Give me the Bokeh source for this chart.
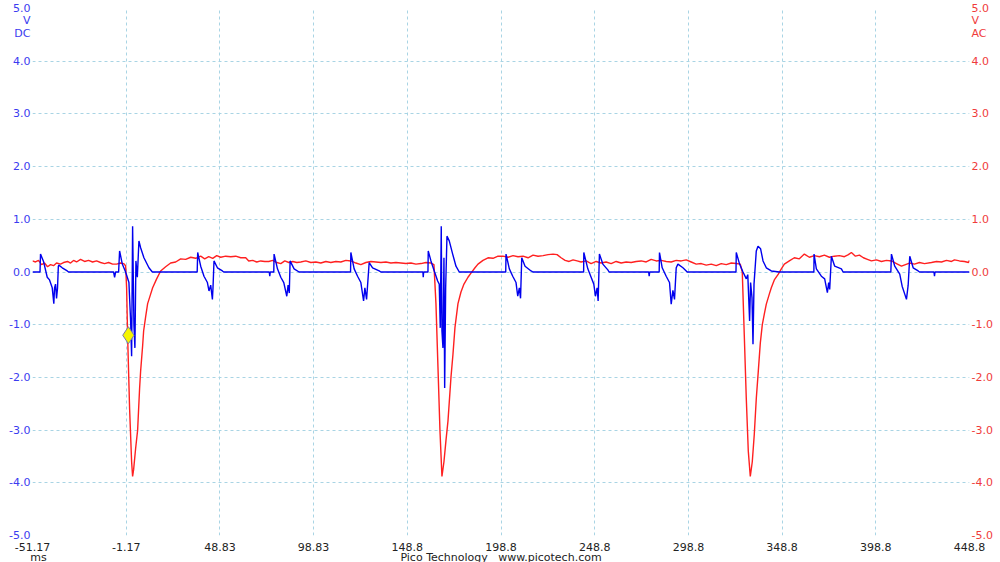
from bokeh.plotting import figure
from bokeh.models import Range1d, LinearAxis, FixedTicker
from bokeh.embed import file_html
from bokeh.resources import INLINE

# ---- data ----
# Channel B (AC, red): time in ms, voltage in V
red_t = [-51.17, -49.56, -47.96, -46.36, -44.76, -43.15, -41.55, -39.95, -38.34, -36.21,
         -34.61, -32.47, -30.87, -29.26, -27.66, -25.52, -23.39, -21.25, -19.11, -16.98,
         -14.84, -12.70, -10.57, -8.43, -6.29, -4.16, -2.55, -1.48, -0.95, -0.42,
         0.65, 1.72, 2.25, 2.79, 3.86, 4.93, 5.99, 6.53, 7.60, 8.13,
         9.20, 10.27, 11.87, 12.94, 15.08, 17.21, 19.88, 22.55, 25.23, 27.90,
         30.57, 33.24, 35.91, 38.58, 40.72, 42.86, 44.99, 47.13, 49.27, 51.93,
         54.61, 57.28, 59.95, 62.62, 64.22, 66.36, 68.50, 70.63, 72.77, 74.91,
         77.04, 79.18, 81.32, 83.45, 85.59, 87.73, 89.87, 92.00, 94.67, 97.35,
         100.02, 102.69, 105.36, 108.03, 110.70, 113.37, 116.04, 118.71, 121.38, 124.05,
         126.72, 129.39, 132.07, 134.74, 137.41, 140.08, 142.75, 145.42, 148.09, 150.76,
         153.43, 156.10, 158.78, 161.45, 163.05, 164.12, 165.19, 166.25, 167.32, 168.39,
         169.46, 170.53, 172.13, 173.20, 174.27, 175.87, 177.47, 179.07, 181.21, 182.81,
         184.95, 186.55, 189.22, 191.90, 194.57, 197.24, 199.91, 202.58, 205.25, 207.92,
         210.59, 213.26, 215.93, 218.61, 221.28, 223.95, 226.62, 228.76, 230.89, 233.03,
         235.17, 237.30, 239.44, 241.58, 244.25, 246.92, 249.59, 252.26, 254.93, 257.60,
         260.27, 262.94, 265.62, 268.29, 270.96, 273.63, 276.30, 278.97, 281.64, 284.31,
         286.98, 289.65, 292.33, 295.00, 297.67, 300.34, 303.01, 305.68, 308.35, 311.02,
         313.69, 316.36, 319.04, 321.71, 324.38, 326.51, 327.58, 328.65, 329.72, 330.79,
         331.86, 332.92, 333.99, 335.06, 336.13, 337.20, 338.27, 339.33, 340.40, 342.00,
         343.07, 344.67, 346.81, 348.42, 350.02, 352.69, 355.36, 358.03, 360.70, 363.37,
         366.04, 368.72, 371.39, 374.06, 376.73, 379.40, 382.07, 384.21, 385.81, 387.95,
         390.08, 392.22, 394.36, 396.49, 399.17, 401.84, 404.51, 407.18, 409.85, 412.52,
         414.66, 416.79, 419.46, 422.14, 424.81, 428.55, 431.21, 433.89, 436.56, 439.23,
         440.83, 443.50, 446.17, 448.31, 448.83]
red_v = [0.21, 0.19, 0.22, 0.14, 0.17, 0.10, 0.14, 0.12, 0.17, 0.15,
         0.18, 0.20, 0.17, 0.22, 0.19, 0.24, 0.20, 0.22, 0.19, 0.21,
         0.18, 0.16, 0.18, 0.15, 0.15, 0.17, 0.16, 0.12, -0.30, -1.20,
         -2.60, -3.60, -3.88, -3.75, -3.35, -3.00, -2.20, -1.88, -1.40, -1.12,
         -0.85, -0.60, -0.42, -0.30, -0.13, 0.02, 0.10, 0.17, 0.19, 0.25,
         0.24, 0.28, 0.26, 0.30, 0.25, 0.29, 0.26, 0.31, 0.28, 0.30,
         0.29, 0.30, 0.27, 0.27, 0.21, 0.22, 0.19, 0.21, 0.20, 0.20,
         0.22, 0.18, 0.16, 0.21, 0.18, 0.20, 0.18, 0.19, 0.21, 0.18,
         0.19, 0.17, 0.20, 0.18, 0.20, 0.19, 0.22, 0.21, 0.17, 0.14,
         0.18, 0.20, 0.19, 0.18, 0.19, 0.17, 0.18, 0.17, 0.16, 0.17,
         0.15, 0.16, 0.18, 0.17, 0.14, -0.60, -1.80, -3.00, -3.88, -3.60,
         -3.20, -2.83, -2.00, -1.56, -1.05, -0.60, -0.38, -0.23, -0.10, -0.02,
         0.08, 0.15, 0.22, 0.27, 0.26, 0.30, 0.30, 0.28, 0.31, 0.29,
         0.30, 0.27, 0.32, 0.30, 0.31, 0.33, 0.34, 0.33, 0.27, 0.22,
         0.20, 0.23, 0.21, 0.19, 0.21, 0.16, 0.20, 0.17, 0.19, 0.16,
         0.20, 0.17, 0.19, 0.18, 0.20, 0.21, 0.19, 0.24, 0.21, 0.22,
         0.20, 0.19, 0.22, 0.21, 0.23, 0.19, 0.15, 0.16, 0.13, 0.15,
         0.12, 0.16, 0.14, 0.17, 0.16, 0.15, 0.00, -1.20, -2.40, -3.40,
         -3.88, -3.60, -3.08, -2.40, -1.88, -1.35, -1.00, -0.80, -0.61, -0.42,
         -0.30, -0.15, -0.04, 0.06, 0.15, 0.21, 0.27, 0.25, 0.34, 0.28,
         0.31, 0.29, 0.32, 0.28, 0.30, 0.31, 0.29, 0.33, 0.37, 0.30,
         0.32, 0.27, 0.24, 0.21, 0.23, 0.20, 0.22, 0.21, 0.16, 0.11,
         0.14, 0.17, 0.15, 0.18, 0.16, 0.18, 0.20, 0.19, 0.22, 0.20,
         0.23, 0.21, 0.20, 0.18, 0.22]

# Channel A (DC, blue): time in ms, voltage in V
blue_t = [-51.17, -47.16, -46.89, -45.29, -43.31, -42.08, -40.64, -39.79, -39.41, -38.88,
          -38.34, -37.81, -37.38, -37.12, -35.30, -32.63, -31.93,
          -7.89, -7.36, -6.83, -5.22, -4.69, -3.25, -1.48, 0.28, 1.19, 1.72, 2.25, 2.95,
          3.48, 4.02, 4.77, 5.62, 6.53, 8.29, 10.96, 12.78,
          36.71, 36.98, 38.58, 40.34, 42.16, 43.01, 43.92, 44.83, 45.15, 45.68, 47.50, 50.17, 50.87,
          75.17, 75.44, 75.71, 77.58, 77.74, 79.55, 81.32, 82.92, 84.52, 85.22, 85.86, 86.29,
          88.42, 91.09,
          118.55, 118.71, 120.47, 122.29, 124.05, 125.50, 126.19, 127.10, 128.49, 130.30,
          133.83, 134.74,
          157.17, 157.33, 157.55, 159.85, 160.01, 161.45, 163.21, 165.03, 165.88, 166.42,
          166.95, 167.32, 167.86, 168.39, 168.77, 169.30, 170.00, 171.22, 173.04, 174.80, 176.57,
          201.35, 201.51, 203.28, 205.09, 206.85, 207.76, 208.62, 209.26, 209.90, 211.66,
          214.87, 215.93,
          242.92, 243.02, 245.16, 246.92, 248.36, 249.22, 250.12, 250.66, 251.35, 253.17,
          255.84, 256.53,
          277.64, 277.90, 278.17, 283.24, 283.40, 284.85, 286.98, 288.75, 289.65, 290.56,
          291.42, 292.33, 293.24, 295.91, 297.67, 298.21,
          324.22, 324.38, 326.14, 327.96, 329.72, 330.52, 331.49, 332.02, 332.77, 333.30,
          333.84, 335.06, 335.97, 337.36, 338.65, 340.40, 343.07, 347.35,
          365.78, 365.88, 367.11, 369.78, 371.55, 372.99, 373.68, 374.22, 375.13, 376.89,
          380.47, 381.38,
          406.86, 407.18, 408.94, 411.61, 412.89, 414.28, 415.19, 416.10, 416.95, 418.77,
          421.44, 422.14,
          429.88, 430.15, 430.42, 448.83]
blue_v = [0.00, 0.00, 0.34, 0.20, -0.10, -0.15, -0.30, -0.60, -0.30, -0.23,
          -0.50, -0.30, 0.11, 0.13, 0.08, 0.02, 0.00,
          0.00, -0.10, 0.00, 0.00, 0.40, 0.15, 0.00, -0.20, -0.93, -1.60, 0.87, -1.00,
          -1.44, 0.21, -0.10, 0.59, 0.46, 0.27, 0.08, 0.00,
          0.00, 0.37, 0.11, -0.08, -0.20, -0.36, -0.25, -0.52, -0.30, 0.21, 0.08, 0.02, 0.00,
          0.00, -0.08, 0.00, 0.00, 0.34, 0.06, -0.10, -0.20, -0.46, -0.25, -0.40, 0.21,
          0.06, 0.00,
          0.00, 0.37, 0.06, -0.08, -0.20, -0.55, -0.30, -0.52, 0.18, 0.08,
          0.02, 0.00,
          0.00, -0.10, 0.00, 0.00, 0.40, 0.21, 0.02, -0.17, -0.23, -1.06,
          0.87, -1.12, -1.44, 0.27, -2.20, -0.30, 0.68, 0.59, 0.34, 0.11, 0.00,
          0.00, 0.34, 0.06, -0.08, -0.20, -0.46, -0.30, -0.50, 0.27, 0.11,
          0.02, 0.00,
          0.00, 0.37, 0.06, -0.10, -0.23, -0.46, -0.30, -0.55, 0.34, 0.15,
          0.04, 0.00,
          0.00, -0.08, 0.00, 0.00, 0.37, 0.08, -0.08, -0.20, -0.61, -0.35,
          -0.52, 0.08, 0.15, 0.08, 0.02, 0.00,
          0.00, 0.37, 0.15, 0.00, -0.13, -0.05, -0.93, -0.20, -0.49, -1.37,
          -0.23, 0.40, 0.49, 0.44, 0.21, 0.08, 0.02, 0.00,
          0.00, 0.34, 0.06, -0.08, -0.13, -0.39, -0.20, -0.33, 0.30, 0.11,
          0.06, 0.00,
          0.00, 0.34, 0.11, -0.04, -0.27, -0.42, -0.52, -0.25, 0.30, 0.08,
          0.02, 0.00,
          0.00, -0.08, 0.00, 0.00]

trigger_t = [0.0]
trigger_v = [-1.2]

x_ticks = [-51.17, -1.17, 48.83, 98.83, 148.83, 198.83, 248.83, 298.83, 348.83, 398.83, 448.83]
x_labels = ["-51.17", "-1.17", "48.83", "98.83", "148.8", "198.8", "248.8", "298.8", "348.8", "398.8", "448.8"]
y_ticks = [-5, -4, -3, -2, -1, 0, 1, 2, 3, 4, 5]
y_labels = ["-5.0", "-4.0", "-3.0", "-2.0", "-1.0", "0.0", "1.0", "2.0", "3.0", "4.0", "5.0"]
left_unit = ["V", "DC"]
right_unit = ["V", "AC"]
x_unit = "ms"
footer = "Pico Technology\u00a0\u00a0\u00a0www.picotech.com"

FONT = "DejaVu Sans"
BLUE_TXT = "#3b3bf0"
RED_TXT = "#f03b3b"
GRID = "#a9d4e4"

# canvas is a few px taller than the window; a matching negative bottom margin
# keeps the page from scrolling (the overflow lies below the visible area)
p = figure(width=1000, height=566, output_backend="svg", toolbar_location=None,
           x_range=Range1d(-51.17, 448.83), y_range=Range1d(-5, 5),
           min_border_left=32, min_border_right=31, min_border_top=8, min_border_bottom=28,
           background_fill_color="white", border_fill_color="white", outline_line_color=None)
p.margin = (0, 0, -4, 0)


def style_axis(ax, color, standoff):
    ax.axis_line_color = None
    ax.major_tick_line_color = None
    ax.minor_tick_line_color = None
    ax.major_tick_out = 0
    ax.major_tick_in = 0
    ax.major_label_text_font = FONT
    ax.major_label_text_font_size = "11px"
    ax.major_label_text_color = color
    ax.major_label_standoff = standoff


# y positions of the unit captions just under the top tick
unit_rows = [4.77, 4.52]

xt = FixedTicker(ticks=x_ticks)
yt = FixedTicker(ticks=y_ticks)
y_axis_ticks = FixedTicker(ticks=y_ticks + unit_rows)
left_over = {t: l for t, l in zip(y_ticks, y_labels)}
left_over.update({t: l for t, l in zip(unit_rows, left_unit)})
right_over = {t: l for t, l in zip(y_ticks, y_labels)}
right_over.update({t: l for t, l in zip(unit_rows, right_unit)})

p.xaxis.ticker = xt
p.xaxis.major_label_overrides = {t: l for t, l in zip(x_ticks, x_labels)}
style_axis(p.xaxis[0], "#222222", 7)

p.yaxis.ticker = y_axis_ticks
p.yaxis.major_label_overrides = left_over
style_axis(p.yaxis[0], BLUE_TXT, 2)

right = LinearAxis(ticker=y_axis_ticks, major_label_overrides=right_over)
style_axis(right, RED_TXT, 2)
p.add_layout(right, "right")

# second row under the time axis: unit and footer
footer_pos = [-47.96, 198.84]
bottom2 = LinearAxis(ticker=FixedTicker(ticks=footer_pos),
                     major_label_overrides={footer_pos[0]: x_unit, footer_pos[1]: footer})
style_axis(bottom2, "#222222", -3)
p.add_layout(bottom2, "below")

p.xgrid.ticker = xt
p.ygrid.ticker = yt
for g in (p.xgrid, p.ygrid):
    g.grid_line_color = GRID
    g.grid_line_dash = "3 3"
    g.grid_line_width = 1

p.line(red_t, red_v, line_color="#ff2020", line_width=1.4)
p.line(blue_t, blue_v, line_color="#0000ee", line_width=1.4)
p.scatter(trigger_t, trigger_v, marker="diamond", size=17, fill_color="#f5f500",
          line_color="#7a7aa8", line_width=1)

open("out.html", "w").write(file_html(p, INLINE))
